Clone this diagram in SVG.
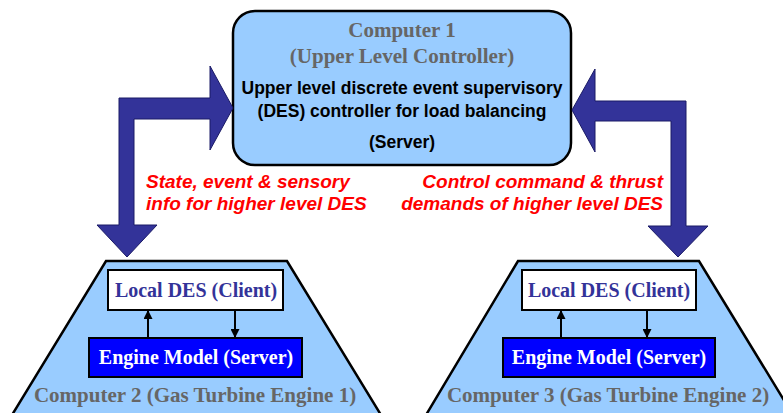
<svg xmlns="http://www.w3.org/2000/svg" width="783" height="413" viewBox="0 0 783 413">
<style>
.box{fill:#99ccff;stroke:#000;stroke-width:2.5}
.big{fill:#333399;stroke:#1a1a66;stroke-width:1}
.ser{font-family:"Liberation Serif",serif;font-weight:bold;font-size:20px;text-anchor:middle}
.gray{fill:#666666;font-size:21px}
.blk{font-family:"Liberation Sans",Arial,sans-serif;font-weight:bold;font-size:17.5px;fill:#000;text-anchor:middle}
.red{font-family:"Liberation Sans",Arial,sans-serif;font-weight:bold;font-style:italic;font-size:19px;fill:#ff0000}
.lbox{fill:#fff;stroke:#000;stroke-width:2}
.ebox{fill:#0000ff;stroke:#000;stroke-width:2}
.sm{stroke:#000;stroke-width:2;fill:none;marker-end:url(#ah)}
</style>
<defs>
<marker id="ah" viewBox="0 0 10 10" refX="10" refY="5" markerWidth="5" markerHeight="4.5" orient="auto" markerUnits="strokeWidth">
<path d="M0,0 L10,5 L0,10 Z" fill="#000"/>
</marker>
</defs>
<g id="computer1">
<rect class="box" x="233" y="11" width="338" height="154" rx="22"/>
<text class="ser gray" x="402" y="37">Computer 1</text>
<text class="ser gray" x="402" y="63">(Upper Level Controller)</text>
<text class="blk" x="402" y="94">Upper level discrete event supervisory</text>
<text class="blk" x="402" y="117">(DES) controller for load balancing</text>
<text class="blk" x="402" y="148">(Server)</text>
</g>
<g id="computer2">
<polygon class="box" points="106,261 287,261 381,415 12,415"/>
<rect class="lbox" x="108" y="270" width="175" height="40"/>
<text class="ser" x="196" y="297" fill="#333399">Local DES (Client)</text>
<rect class="ebox" x="89" y="338" width="213" height="39"/>
<text class="ser" x="196" y="364" fill="#ffffff" font-size="20.4">Engine Model (Server)</text>
<text class="ser gray" x="195" y="402">Computer 2 (Gas Turbine Engine 1)</text>
</g>
<g id="computer3">
<polygon class="box" points="518,261 699,261 793,415 426,415"/>
<rect class="lbox" x="522" y="270" width="174" height="40"/>
<text class="ser" x="609" y="297" fill="#333399">Local DES (Client)</text>
<rect class="ebox" x="503" y="338" width="212" height="39"/>
<text class="ser" x="609" y="364" fill="#ffffff" font-size="20.4">Engine Model (Server)</text>
<text class="ser gray" x="608" y="402">Computer 3 (Gas Turbine Engine 2)</text>
</g>
<g id="connectors">
<path class="big" d="M233,108 L210,150 L210,119 L134,119 L134,225 L157,225 L127,257 L97,225 L119,225 L119,98 L210,98 L210,66 Z"/>
<path class="big" d="M572,110 L595,69 L595,101 L686,101 L686,226 L708,226 L678,257 L648,226 L671,226 L671,121 L595,121 L595,152 Z"/>
<line class="sm" x1="148" y1="338" x2="148" y2="310"/>
<line class="sm" x1="235" y1="310" x2="235" y2="338"/>
<line class="sm" x1="561" y1="338" x2="561" y2="310"/>
<line class="sm" x1="647" y1="310" x2="647" y2="338"/>
<text class="red" x="146" y="188">State, event &amp; sensory</text>
<text class="red" x="146" y="210">info for higher level DES</text>
<text class="red" x="663" y="188" text-anchor="end">Control command &amp; thrust</text>
<text class="red" x="663" y="210" text-anchor="end">demands of higher level DES</text>
</g>
</svg>
